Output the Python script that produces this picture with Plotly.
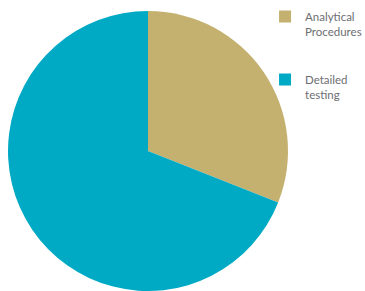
import plotly.graph_objects as go

categories = ["Analytical Procedures", "Detailed testing"]
values = [31, 69]
colors = ["#C4B170", "#00AAC5"]

pad = "<br> <br><span style='font-size:20px'> </span>"
legend_labels = [c.replace(" ", "<br>", 1) + pad for c in categories]

fig = go.Figure(
    go.Pie(
        labels=legend_labels,
        values=values,
        marker=dict(colors=colors, line=dict(width=0)),
        sort=False,
        direction="clockwise",
        rotation=0,
        textinfo="none",
        hoverinfo="value",
        domain=dict(x=[0, 280 / 357], y=[0, 1]),
    )
)

fig.update_layout(
    width=365,
    height=291,
    margin=dict(l=8, r=0, t=11, b=0, autoexpand=False),
    paper_bgcolor="white",
    plot_bgcolor="white",
    showlegend=True,
    legend=dict(
        x=0.72,
        y=1.03,
        xanchor="left",
        yanchor="top",
        valign="top",
        font=dict(family="Lato", size=11.5, color="#6d6e71"),
        bgcolor="rgba(0,0,0,0)",
        traceorder="normal",
    ),
)

fig.write_html(
    "out.html",
    config={"displayModeBar": False},
    post_script="document.body.style.margin='0';document.body.style.overflow='hidden';",
)
